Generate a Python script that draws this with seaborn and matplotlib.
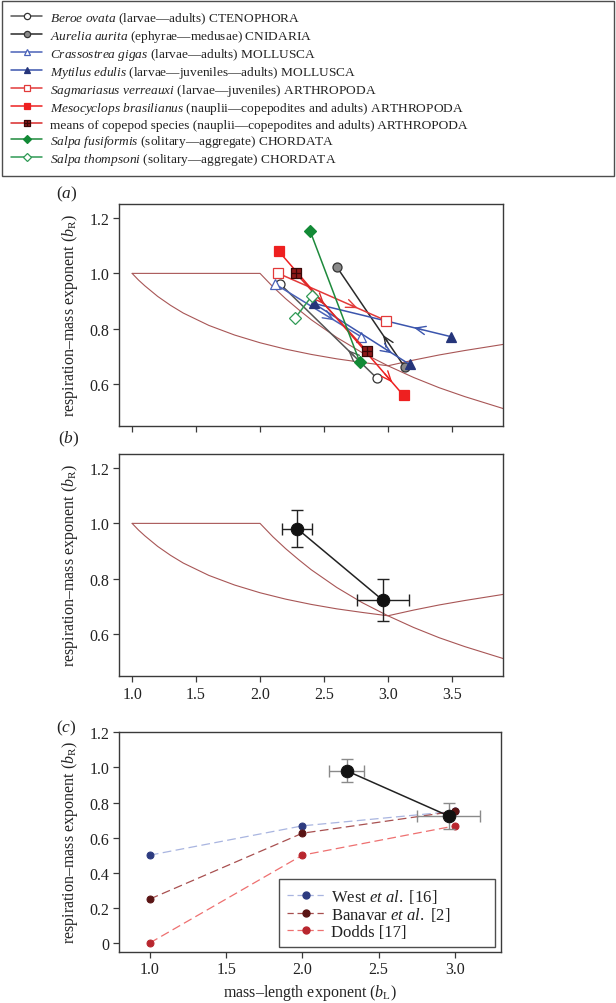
import numpy as np
import pandas as pd
import matplotlib
matplotlib.use("Agg")
import matplotlib.pyplot as plt
from matplotlib.path import Path
from matplotlib.lines import Line2D
import seaborn as sns

# ---------------- data ----------------
# theoretical boundaries
sa_x = [1.0, 2.0, 2.1, 2.2, 2.3, 2.4, 2.6, 2.8, 3.0, 3.2, 3.4, 3.6, 3.9]
sa_y = [1.0, 1.0, 0.952, 0.909, 0.870, 0.833, 0.769, 0.714, 0.667, 0.625, 0.588, 0.556, 0.513]
rt_x = [1.0, 1.05, 1.1, 1.2, 1.3, 1.4, 1.6, 1.8, 2.0, 2.2, 2.4, 2.6, 2.8, 3.0, 3.2, 3.4, 3.6, 3.9]
rt_y = [1.0, 0.976, 0.955, 0.917, 0.885, 0.857, 0.8125, 0.778, 0.75, 0.727, 0.708, 0.692, 0.679, 0.667, 0.6875, 0.706, 0.722, 0.744]

species_labels = [
    r"$\mathit{Beroe\ ovata}$ (larvae—adults) CTENOPHORA",
    r"$\mathit{Aurelia\ aurita}$ (ephyrae—medusae) CNIDARIA",
    r"$\mathit{Crassostrea\ gigas}$ (larvae—adults) MOLLUSCA",
    r"$\mathit{Mytilus\ edulis}$ (larvae—juveniles—adults) MOLLUSCA",
    r"$\mathit{Sagmariasus\ verreauxi}$ (larvae—juveniles) ARTHROPODA",
    r"$\mathit{Mesocyclops\ brasilianus}$ (nauplii—copepodites and adults) ARTHROPODA",
    "means of copepod species (nauplii—copepodites and adults) ARTHROPODA",
    r"$\mathit{Salpa\ fusiformis}$ (solitary—aggregate) CHORDATA",
    r"$\mathit{Salpa\ thompsoni}$ (solitary—aggregate) CHORDATA",
]
beroe_bL = [2.914, 2.159];           beroe_bR = [0.622, 0.961]
aurelia_bL = [3.130, 2.602];         aurelia_bR = [0.663, 1.022]
crassostrea_bL = [2.120, 2.789];     crassostrea_bR = [0.961, 0.772]
mytilus_bL = [3.492, 2.419, 3.169];  mytilus_bR = [0.772, 0.892, 0.672]
sagmariasus_bL = [2.138, 2.984];     sagmariasus_bR = [1.001, 0.830]
mesocyclops_bL = [2.146, 3.122];     mesocyclops_bR = [1.080, 0.560]
copepods_bL = [2.281, 2.836];        copepods_bR = [1.000, 0.720]
sfusiformis_bL = [2.393, 2.779];     sfusiformis_bR = [1.151, 0.681]
sthompsoni_bL = [2.276, 2.406];      sthompsoni_bR = [0.840, 0.919]

# mean across species with error bars
mean_bL = [2.29, 2.96]
mean_bR = [0.981, 0.723]
mean_bL_err = [0.115, 0.205]
mean_bR_err = [0.066, 0.075]

# model predictions (panel c)
model_names = ["West $\\mathit{et\\ al.}$ [16]", "Banavar $\\mathit{et\\ al.}$ [2]", "Dodds [17]"]
model_bL = [1.0, 2.0, 3.0]
west_bR = [0.5, 0.667, 0.75]
banavar_bR = [0.25, 0.625, 0.75]
dodds_bR = [0.0, 0.5, 0.667]

# ---------------- style ----------------
sns.set_theme(style="ticks")
plt.rcParams["font.family"] = ["Liberation Serif", "DejaVu Serif"]
plt.rcParams["mathtext.fontset"] = "custom"
plt.rcParams["mathtext.rm"] = "Liberation Serif"
plt.rcParams["mathtext.it"] = "Liberation Serif:italic"
plt.rcParams["mathtext.bf"] = "Liberation Serif:bold"

SPINE = "#3a3a3a"
CURVE = "#a85656"

box_cross = Path(
    [(-1, -1), (1, -1), (1, 1), (-1, 1), (-1, -1), (0, -1), (0, 1), (-1, 0), (1, 0)],
    [Path.MOVETO, Path.LINETO, Path.LINETO, Path.LINETO, Path.CLOSEPOLY,
     Path.MOVETO, Path.LINETO, Path.MOVETO, Path.LINETO],
)

series = [
    (beroe_bL, beroe_bR, dict(color="#555555", marker="o", mfc="white", mec="#333333"), [(0, 0.30)]),
    (aurelia_bL, aurelia_bR, dict(color="#2a2a2a", marker="o", mfc="#8a8a8a", mec="#333333"), [(0, 0.32)]),
    (crassostrea_bL, crassostrea_bR, dict(color="#4a62b8", marker="^", mfc="white", mec="#4a62b8"), [(0, 0.69)]),
    (mytilus_bL, mytilus_bR, dict(color="#3b55ad", marker="^", mfc="#25357a", mec="#25357a"), [(0, 0.27), (1, 0.82)]),
    (sagmariasus_bL, sagmariasus_bR, dict(color="#e23a3a", marker="s", mfc="white", mec="#e23a3a"), [(0, 0.74)]),
    (mesocyclops_bL, mesocyclops_bR, dict(color="#ee2020", marker="s", mfc="#ee2020", mec="#ee2020"), [(0, 0.91)]),
    (copepods_bL, copepods_bR, dict(color="#d82a2a", marker=box_cross, mfc="#8e1a1a", mec="#3a0808"), [(0, 0.40)]),
    (sfusiformis_bL, sfusiformis_bR, dict(color="#1e8a3c", marker="D", mfc="#128a36", mec="#128a36"), []),
    (sthompsoni_bL, sthompsoni_bR, dict(color="#2f9a55", marker="D", mfc="white", mec="#2f9a55"), []),
]
msizes = {"o": 6.5, "^": 7, "s": 6.5, "D": 6}

fig = plt.figure(figsize=(6.16, 10.04), dpi=100)
ax_a = fig.add_axes([0.1937, 0.5747, 0.623, 0.2211])
ax_b = fig.add_axes([0.1937, 0.3257, 0.623, 0.2211])
ax_c = fig.add_axes([0.1937, 0.0511, 0.619, 0.2185])

ylab = r"respiration–mass exponent ($\mathit{b}_{\mathrm{R}}$)"


def style_axes(ax):
    for s in ax.spines.values():
        s.set_visible(True)
        s.set_color(SPINE)
        s.set_linewidth(1.0)
    ax.tick_params(direction="out", length=4, width=0.9, color=SPINE, labelsize=11.5,
                   labelcolor="#222222", pad=3)
    ax.set_ylabel(ylab, fontsize=11.5, color="#222222", labelpad=7)


def theory(ax):
    sns.lineplot(x=sa_x, y=sa_y, sort=False, estimator=None, color=CURVE, linewidth=0.8, ax=ax)
    sns.lineplot(x=rt_x, y=rt_y, sort=False, estimator=None, color=CURVE, linewidth=0.8, ax=ax)


# ---------- panel a ----------
theory(ax_a)
handles = []
for (xs, ys, st, arrows), lab in zip(series, species_labels):
    mk = st["marker"]
    ms = msizes.get(mk, 7) if isinstance(mk, str) else 7
    sns.lineplot(x=xs, y=ys, sort=False, estimator=None, ax=ax_a, color=st["color"],
                 linewidth=1.1, marker=mk, markersize=ms, markerfacecolor=st["mfc"],
                 markeredgecolor=st["mec"], markeredgewidth=0.9, zorder=3)
    for seg, f in arrows:
        x0, y0, x1, y1 = xs[seg], ys[seg], xs[seg + 1], ys[seg + 1]
        tip = (x0 + f * (x1 - x0), y0 + f * (y1 - y0))
        g = f - 0.06
        tail = (x0 + g * (x1 - x0), y0 + g * (y1 - y0))
        ax_a.annotate("", xy=tip, xytext=tail,
                      arrowprops=dict(arrowstyle="->,head_length=0.6,head_width=0.25",
                                      color=st["color"], lw=1.0, shrinkA=0, shrinkB=0),
                      zorder=3)
    handles.append(Line2D([0], [0], color=st["color"], linewidth=1.1, marker=mk,
                          markersize=(ms - 2), markerfacecolor=st["mfc"],
                          markeredgecolor=st["mec"], markeredgewidth=0.9))

ax_a.set_xlim(0.9, 3.9)
ax_a.set_ylim(0.45, 1.25)
ax_a.set_xticks([1.0, 1.5, 2.0, 2.5, 3.0, 3.5])
ax_a.set_xticklabels([])
ax_a.set_yticks([0.6, 0.8, 1.0, 1.2])
ax_a.set_yticklabels(["0.6", "0.8", "1.0", "1.2"])
style_axes(ax_a)
ax_a.set_xlabel("")

# ---------- panel b ----------
theory(ax_b)
ax_b.errorbar(mean_bL, mean_bR, xerr=mean_bL_err, yerr=mean_bR_err, fmt="none",
              ecolor="#222222", elinewidth=1.0, capsize=4, capthick=1.0, zorder=3)
sns.lineplot(x=mean_bL, y=mean_bR, sort=False, estimator=None, ax=ax_b, color="#222222",
             linewidth=1.1, marker="o", markersize=9, markerfacecolor="#111111",
             markeredgecolor="#111111", zorder=4)
ax_b.set_xlim(0.9, 3.9)
ax_b.set_ylim(0.45, 1.25)
ax_b.set_xticks([1.0, 1.5, 2.0, 2.5, 3.0, 3.5])
ax_b.set_xticklabels(["1.0", "1.5", "2.0", "2.5", "3.0", "3.5"])
ax_b.set_yticks([0.6, 0.8, 1.0, 1.2])
ax_b.set_yticklabels(["0.6", "0.8", "1.0", "1.2"])
style_axes(ax_b)
ax_b.set_xlabel("")

# ---------- panel c ----------
model_styles = [
    dict(color="#a9b5e0", mfc="#2d3b80"),
    dict(color="#a85050", mfc="#5a1414"),
    dict(color="#ee7070", mfc="#b8262e"),
]
model_handles = []
for ys, st in zip([west_bR, banavar_bR, dodds_bR], model_styles):
    sns.lineplot(x=model_bL, y=ys, sort=False, estimator=None, ax=ax_c, color=st["color"],
                 linewidth=0.9, dashes=False, marker="o", markersize=5,
                 markerfacecolor=st["mfc"], markeredgecolor=st["mfc"], zorder=3)
    ax_c.lines[-1].set_dashes([7, 3.5])
    model_handles.append(Line2D([0], [0], color=st["color"], linewidth=0.9, dashes=[5, 3],
                                marker="o", markersize=5, markerfacecolor=st["mfc"],
                                markeredgecolor=st["mfc"]))
ax_c.errorbar(mean_bL, mean_bR, xerr=mean_bL_err, yerr=mean_bR_err, fmt="none",
              ecolor="#8a8a8a", elinewidth=1.0, capsize=4, capthick=1.0, zorder=4)
sns.lineplot(x=mean_bL, y=mean_bR, sort=False, estimator=None, ax=ax_c, color="#222222",
             linewidth=1.1, marker="o", markersize=9, markerfacecolor="#111111",
             markeredgecolor="#111111", zorder=5)
ax_c.set_xlim(0.8, 3.3)
ax_c.set_ylim(-0.05, 1.2)
ax_c.set_xticks([1.0, 1.5, 2.0, 2.5, 3.0])
ax_c.set_xticklabels(["1.0", "1.5", "2.0", "2.5", "3.0"])
ax_c.set_yticks([0, 0.2, 0.4, 0.6, 0.8, 1.0, 1.2])
ax_c.set_yticklabels(["0", "0.2", "0.4", "0.6", "0.8", "1.0", "1.2"])
style_axes(ax_c)
ax_c.set_xlabel(r"mass–length exponent ($\mathit{b}_{\mathrm{L}}$)", fontsize=11.5,
                color="#222222", labelpad=3)
leg_c = ax_c.legend(model_handles, model_names, loc="lower left",
                    bbox_to_anchor=(0.419, 0.021, 0.566, 0.306), mode="expand",
                    frameon=True, fancybox=False,
                    edgecolor="#222222", fontsize=12, handlelength=2.3,
                    handletextpad=0.35, labelspacing=0.02, borderpad=0.45,
                    borderaxespad=0)
leg_c.get_frame().set_linewidth(1.0)
for t in leg_c.get_texts():
    t.set_color("#222222")

# ---------- top legend ----------
leg = fig.legend(handles, species_labels, loc="upper left",
                 bbox_to_anchor=(0.003, 0.827, 0.994, 0.171), mode="expand",
                 frameon=True, fancybox=False, edgecolor="#222222", fontsize=9.6,
                 handlelength=2.3, handletextpad=0.6, labelspacing=0.155,
                 borderpad=0.7, borderaxespad=0)
leg.get_frame().set_linewidth(1.0)
for t in leg.get_texts():
    t.set_color("#222222")

# panel letters
for (x, y, s) in [(0.109, 0.806, "a"), (0.112, 0.562, "b"), (0.107, 0.275, "c")]:
    fig.text(x, y, "(" + r"$\mathit{%s}$" % s + ")", fontsize=12.5, ha="center",
             va="center", color="#222222")

fig.savefig("out.png", dpi=100)
